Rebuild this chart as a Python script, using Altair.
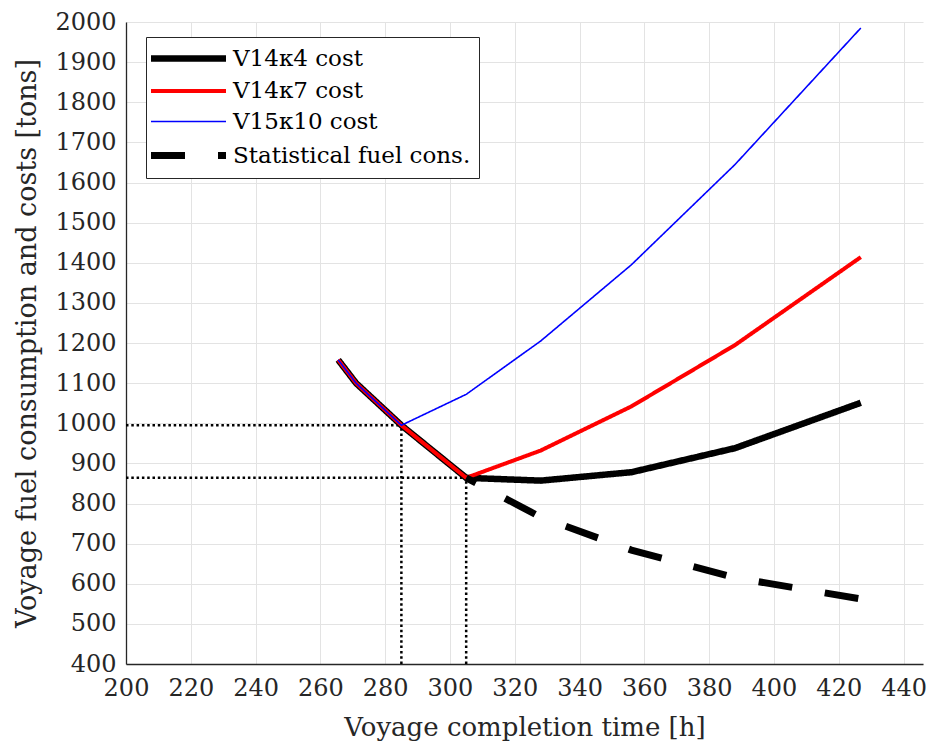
import altair as alt
import pandas as pd

series = ["V14κ4 cost", "V14κ7 cost", "V15κ10 cost", "Statistical fuel cons."]
colors = ["#000000", "#ff0000", "#0000ff", "#000000"]
widths = [6.5, 4, 1.6, 7]
dashes = [[1, 0], [1, 0], [1, 0], [34, 33]]

t_v14k4 = [265.5, 271, 285, 305, 328, 356, 388, 426.8]
c_v14k4 = [1158, 1100, 995, 864, 857, 878, 938, 1051]
t_v14k7 = [265.5, 271, 285, 305, 328, 356, 388, 426.8]
c_v14k7 = [1158, 1100, 995, 864, 932, 1042, 1195, 1414]
t_v15k10 = [265.5, 271, 285, 305, 328, 356, 388, 426.8]
c_v15k10 = [1158, 1100, 995, 1072, 1205, 1395, 1645, 1985]
t_stat = [305, 328, 356, 388, 426.8]
f_stat = [864, 766, 684, 615, 562]

# dotted reference lines (optimum points)
ref_x = [200, 285, 200, 305]
ref_x2 = [285, 285, 305, 305]
ref_y = [995, 400, 864, 400]
ref_y2 = [995, 995, 864, 864]

x_ticks = list(range(200, 441, 20))
y_ticks = list(range(400, 2001, 100))

frames = []
for name, t, v in zip(series, [t_v14k4, t_v14k7, t_v15k10, t_stat],
                      [c_v14k4, c_v14k7, c_v15k10, f_stat]):
    frames.append(pd.DataFrame({"series": name, "t": t, "v": v}))

FONT = "DejaVu Serif"

x_enc = alt.X("t:Q", scale=alt.Scale(domain=[200, 446], nice=False, zero=False),
              axis=alt.Axis(values=x_ticks, title="Voyage completion time [h]",
                            format="d", labelFlush=False, titleFontSize=26,
                            labelPadding=12, titlePadding=14))
y_enc = alt.Y("v:Q", scale=alt.Scale(domain=[400, 2000], nice=False, zero=False),
              axis=alt.Axis(values=y_ticks, title="Voyage fuel consumption and costs [tons]",
                            format="d", titleFontSize=27, labelPadding=10, titlePadding=13))

color_enc = alt.Color("series:N", scale=alt.Scale(domain=series, range=colors),
                      legend=alt.Legend(title=None, orient="none", legendX=20, legendY=15))
sw_enc = alt.StrokeWidth("series:N", scale=alt.Scale(type="ordinal", domain=series, range=widths))
sd_enc = alt.StrokeDash("series:N", scale=alt.Scale(type="ordinal", domain=series, range=dashes))

ref_df = pd.DataFrame({"x": ref_x, "x2": ref_x2, "y": ref_y, "y2": ref_y2})
refs = alt.Chart(ref_df).mark_rule(color="#000000", strokeWidth=2.5, strokeDash=[2.5, 2.8]).encode(
    x=alt.X("x:Q", scale=alt.Scale(domain=[200, 446], nice=False, zero=False)),
    x2="x2:Q",
    y=alt.Y("y:Q", scale=alt.Scale(domain=[400, 2000], nice=False, zero=False)),
    y2="y2:Q",
)

layers = [refs]
for i, df in enumerate(frames):
    mk = alt.Chart(df).mark_line(strokeCap="butt", strokeJoin="miter",
                                 strokeDashOffset=23 if i == 3 else 0)
    layers.append(mk.encode(x=x_enc, y=y_enc, color=color_enc,
                            strokeWidth=sw_enc, strokeDash=sd_enc))

chart = alt.layer(*layers).properties(
    width=797, height=642,
    autosize=alt.AutoSizeParams(type="none"),
    padding={"left": 118, "top": 14, "right": 4, "bottom": 80},
).configure_view(stroke=None).configure_axis(
    labelFont=FONT, labelFontSize=24, labelColor="#262626",
    titleFont=FONT, titleFontWeight="normal", titleColor="#262626",
    domainColor="#262626", domainWidth=1.3, gridColor="#e3e3e3", gridWidth=1,
    ticks=False,
).configure_legend(
    symbolType="M-3.75,0H3.75", symbolSize=400, symbolOffset=21,
    labelFont=FONT, labelFontSize=23, labelColor="#000000", labelOffset=31,
    strokeColor="#262626", fillColor="#ffffff", padding=8, rowPadding=7,
    labelLimit=400,
)

chart.save("out.html", embed_options={"renderer": "svg", "actions": False})
